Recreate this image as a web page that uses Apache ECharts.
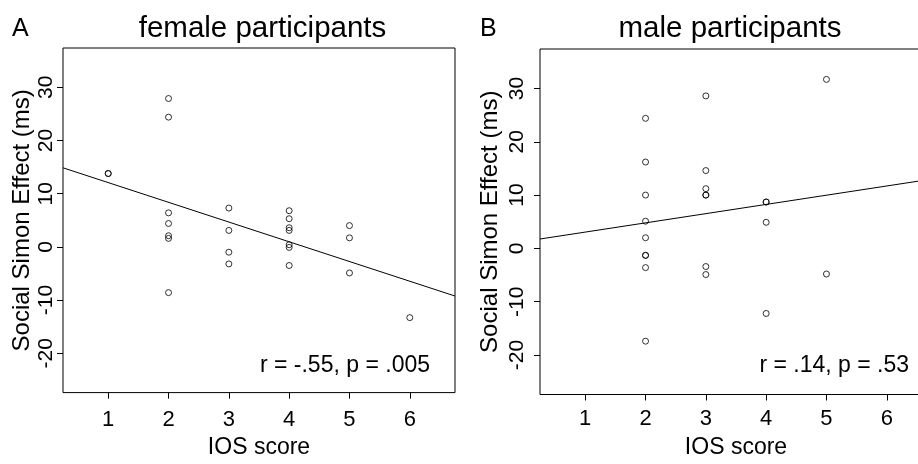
<!DOCTYPE html>
<html>
<head>
<meta charset="utf-8">
<script src="https://cdn.jsdelivr.net/npm/echarts@6/dist/echarts.min.js"></script>
<style>
html,body{margin:0;padding:0;background:#fff;overflow:hidden;width:918px;height:464px;}
#chart{width:934px;height:464px;}
</style>
</head>
<body>
<div id="chart"></div>
<script>
// ---- data ----
const xTicks = [1, 2, 3, 4, 5, 6];
const yTicks = [-20, -10, 0, 10, 20, 30];
const xRange = [0.25, 6.75];
const yRange = [-27.4, 37.4];

const panelLetters = ['A', 'B'];
const panelTitles = ['female participants', 'male participants'];
const statsText = ['r = -.55, p = .005', 'r = .14, p = .53'];
const xAxisName = 'IOS score';
const yAxisName = 'Social Simon Effect (ms)';

// female participants (IOS score, Social Simon Effect)
const femaleX = [1, 1, 2, 2, 2, 2, 2, 2, 2, 3, 3, 3, 3, 4, 4, 4, 4, 4, 4, 4, 5, 5, 5, 6];
const femaleY = [13.8, 13.8, 27.9, 24.4, 6.4, 4.4, 2.1, 1.6, -8.6, 7.3, 3.1, -1.0, -3.2, 6.8, 5.3, 3.6, 3.1, 0.4, -0.1, -3.5, 4.0, 1.7, -4.9, -13.3];

// male participants
const maleX = [2, 2, 2, 2, 2, 2, 2, 2, 2, 3, 3, 3, 3, 3, 3, 3, 4, 4, 4, 4, 5, 5];
const maleY = [24.4, 16.2, 10.0, 5.1, 2.0, -1.3, -1.3, -3.6, -17.4, 28.6, 14.6, 11.2, 10.0, 10.0, -3.4, -4.9, 8.7, 8.7, 4.9, -12.2, 31.7, -4.8];

// regression lines (intercept, slope)
const fitIntercept = [15.8, 1.33];
const fitSlope = [-3.71, 1.73];

// ---- chart ----
const FONT = '"Liberation Sans", Arial, Helvetica, sans-serif';
const chart = echarts.init(document.getElementById('chart'), null, {renderer: 'canvas'});

const grids = [
  {left: 63, top: 48, width: 392, height: 351},
  {left: 540, top: 49, width: 392, height: 351}
];
const xLabelMargin = [16.5, 13.5];
const yLabelMargin = [6.5, 12];
const yNameGap = [29, 38];
const xNameGap = [41.5, 41.5];

const zip = (xs, ys) => xs.map((x, i) => [x, ys[i]]);
const fitLine = (i) => xRange.map(x => [x, fitIntercept[i] + fitSlope[i] * x]);

const option = {
  animation: false,
  backgroundColor: '#fff',
  grid: grids.map(g => Object.assign({
    show: true, borderColor: '#000', borderWidth: 1, backgroundColor: 'transparent', containLabel: false
  }, g)),
  xAxis: [0, 1].map(i => ({
    type: 'value', gridIndex: i, min: xRange[0], max: xRange[1],
    name: xAxisName, nameLocation: 'middle', nameGap: xNameGap[i],
    nameTextStyle: {fontFamily: FONT, fontSize: 23, color: '#000'},
    axisLine: {show: false, onZero: false},
    axisTick: {show: true, length: 6, lineStyle: {color: '#000', width: 1}, customValues: xTicks},
    axisLabel: {show: true, margin: xLabelMargin[i], fontFamily: FONT, fontSize: 22, color: '#000', customValues: xTicks},
    splitLine: {show: false}
  })),
  yAxis: [0, 1].map(i => ({
    type: 'value', gridIndex: i, min: yRange[0], max: yRange[1],
    name: yAxisName, nameLocation: 'middle', nameGap: yNameGap[i], nameRotate: 90,
    nameTextStyle: {fontFamily: FONT, fontSize: 24, color: '#000'},
    axisLine: {show: false, onZero: false},
    axisTick: {show: true, length: 6, lineStyle: {color: '#000', width: 1}, customValues: yTicks},
    axisLabel: {show: true, rotate: 90, margin: yLabelMargin[i], fontFamily: FONT, fontSize: 21, color: '#000', customValues: yTicks},
    splitLine: {show: false}
  })),
  series: [
    {type: 'scatter', xAxisIndex: 0, yAxisIndex: 0, data: zip(femaleX, femaleY), symbol: 'circle', symbolSize: 6,
      itemStyle: {color: 'rgba(0,0,0,0)', borderColor: '#000', borderWidth: 1}, silent: true},
    {type: 'line', xAxisIndex: 0, yAxisIndex: 0, data: fitLine(0), showSymbol: false, symbol: 'none',
      lineStyle: {color: '#000', width: 1}, silent: true},
    {type: 'scatter', xAxisIndex: 1, yAxisIndex: 1, data: zip(maleX, maleY), symbol: 'circle', symbolSize: 6,
      itemStyle: {color: 'rgba(0,0,0,0)', borderColor: '#000', borderWidth: 1}, silent: true},
    {type: 'line', xAxisIndex: 1, yAxisIndex: 1, data: fitLine(1), showSymbol: false, symbol: 'none',
      lineStyle: {color: '#000', width: 1}, silent: true}
  ],
  graphic: [
    {type: 'text', x: 12, y: 29.5, style: {text: panelLetters[0], font: '25px ' + FONT, fill: '#000', align: 'left', verticalAlign: 'middle'}},
    {type: 'text', x: 480, y: 29.5, style: {text: panelLetters[1], font: '25px ' + FONT, fill: '#000', align: 'left', verticalAlign: 'middle'}},
    {type: 'text', x: 262.5, y: 28.5, style: {text: panelTitles[0], font: '29.5px ' + FONT, fill: '#000', align: 'center', verticalAlign: 'middle'}},
    {type: 'text', x: 730, y: 28.5, style: {text: panelTitles[1], font: '29.5px ' + FONT, fill: '#000', align: 'center', verticalAlign: 'middle'}},
    {type: 'text', x: 430, y: 366, style: {text: statsText[0], font: '23px ' + FONT, fill: '#000', align: 'right', verticalAlign: 'middle'}},
    {type: 'text', x: 909, y: 366, style: {text: statsText[1], font: '23px ' + FONT, fill: '#000', align: 'right', verticalAlign: 'middle'}}
  ]
};
chart.setOption(option);
</script>
</body>
</html>
